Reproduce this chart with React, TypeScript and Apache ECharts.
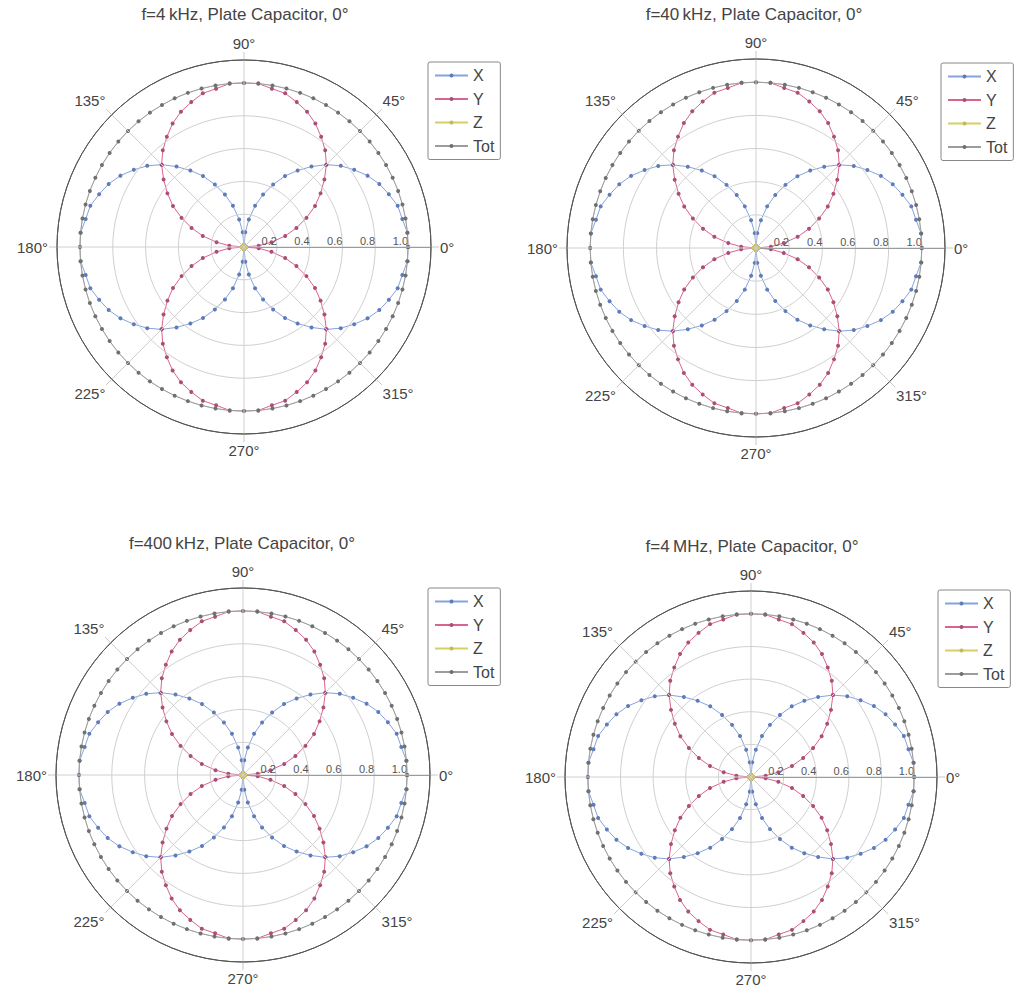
import React, { useEffect, useRef } from 'react';
import * as echarts from 'echarts';

// Angles in degrees (5° steps, closed at 360°)
const ANGLES = [
  0, 5, 10, 15, 20, 25, 30, 35, 40, 45, 50, 55, 60, 65, 70, 75, 80, 85, 90,
  95, 100, 105, 110, 115, 120, 125, 130, 135, 140, 145, 150, 155, 160, 165, 170, 175, 180,
  185, 190, 195, 200, 205, 210, 215, 220, 225, 230, 235, 240, 245, 250, 255, 260, 265, 270,
  275, 280, 285, 290, 295, 300, 305, 310, 315, 320, 325, 330, 335, 340, 345, 350, 355, 360,
];

const X_VALUES = [
  1.0, 1.0, 0.98, 0.97, 0.94, 0.91, 0.87, 0.82, 0.77, 0.71, 0.64, 0.57, 0.5, 0.42, 0.34, 0.26, 0.17, 0.09, 0.0,
  0.09, 0.17, 0.26, 0.34, 0.42, 0.5, 0.57, 0.64, 0.71, 0.77, 0.82, 0.87, 0.91, 0.94, 0.97, 0.98, 1.0, 1.0,
  1.0, 0.98, 0.97, 0.94, 0.91, 0.87, 0.82, 0.77, 0.71, 0.64, 0.57, 0.5, 0.42, 0.34, 0.26, 0.17, 0.09, 0.0,
  0.09, 0.17, 0.26, 0.34, 0.42, 0.5, 0.57, 0.64, 0.71, 0.77, 0.82, 0.87, 0.91, 0.94, 0.97, 0.98, 1.0, 1.0,
];

const Y_VALUES = [
  0.0, 0.09, 0.17, 0.26, 0.34, 0.42, 0.5, 0.57, 0.64, 0.71, 0.77, 0.82, 0.87, 0.91, 0.94, 0.97, 0.98, 1.0, 1.0,
  1.0, 0.98, 0.97, 0.94, 0.91, 0.87, 0.82, 0.77, 0.71, 0.64, 0.57, 0.5, 0.42, 0.34, 0.26, 0.17, 0.09, 0.0,
  0.09, 0.17, 0.26, 0.34, 0.42, 0.5, 0.57, 0.64, 0.71, 0.77, 0.82, 0.87, 0.91, 0.94, 0.97, 0.98, 1.0, 1.0,
  1.0, 0.98, 0.97, 0.94, 0.91, 0.87, 0.82, 0.77, 0.71, 0.64, 0.57, 0.5, 0.42, 0.34, 0.26, 0.17, 0.09, 0.0,
];

const Z_VALUES = [
  0.01, 0.01, 0.01, 0.01, 0.01, 0.01, 0.01, 0.01, 0.01, 0.01, 0.01, 0.01, 0.01, 0.01, 0.01, 0.01, 0.01, 0.01, 0.01,
  0.01, 0.01, 0.01, 0.01, 0.01, 0.01, 0.01, 0.01, 0.01, 0.01, 0.01, 0.01, 0.01, 0.01, 0.01, 0.01, 0.01, 0.01,
  0.01, 0.01, 0.01, 0.01, 0.01, 0.01, 0.01, 0.01, 0.01, 0.01, 0.01, 0.01, 0.01, 0.01, 0.01, 0.01, 0.01, 0.01,
  0.01, 0.01, 0.01, 0.01, 0.01, 0.01, 0.01, 0.01, 0.01, 0.01, 0.01, 0.01, 0.01, 0.01, 0.01, 0.01, 0.01, 0.01,
];

const TOT_VALUES = [
  1.0, 1.0, 1.0, 1.0, 1.0, 1.0, 1.0, 1.0, 1.0, 1.0, 1.0, 1.0, 1.0, 1.0, 1.0, 1.0, 1.0, 1.0, 1.0,
  1.0, 1.0, 1.0, 1.0, 1.0, 1.0, 1.0, 1.0, 1.0, 1.0, 1.0, 1.0, 1.0, 1.0, 1.0, 1.0, 1.0, 1.0,
  1.0, 1.0, 1.0, 1.0, 1.0, 1.0, 1.0, 1.0, 1.0, 1.0, 1.0, 1.0, 1.0, 1.0, 1.0, 1.0, 1.0, 1.0,
  1.0, 1.0, 1.0, 1.0, 1.0, 1.0, 1.0, 1.0, 1.0, 1.0, 1.0, 1.0, 1.0, 1.0, 1.0, 1.0, 1.0, 1.0,
];

const PANEL_TITLES = [
  'f=4\u2009kHz, Plate Capacitor, 0°',
  'f=40\u2009kHz, Plate Capacitor, 0°',
  'f=400\u2009kHz, Plate Capacitor, 0°',
  'f=4\u2009MHz, Plate Capacitor, 0°',
];

const SERIES_NAMES = ['X', 'Y', 'Z', 'Tot'];
const SERIES_VALUES = [X_VALUES, Y_VALUES, Z_VALUES, TOT_VALUES];

const LINE_COLORS = ['#86a3dc', '#d9648f', '#d8cf62', '#9c9c9c'];
const MARK_COLORS = ['#5f7cb8', '#a9507a', '#c7b94e', '#707070'];

const LAYOUT = [
  { cx: 244, cy: 247, r: 187, tx: 245, ty: 6, lx: 428, ly: 62 },
  { cx: 756, cy: 248, r: 189, tx: 754, ty: 6, lx: 941, ly: 63 },
  { cx: 243, cy: 775, r: 187, tx: 242, ty: 535, lx: 428, ly: 588 },
  { cx: 751, cy: 777, r: 186, tx: 752, ty: 538, lx: 938, ly: 590 },
];

const GRID = '#d0d0d0';
const FONT = '"Liberation Sans", Arial, sans-serif';

export default function App() {
  const ref = useRef<HTMLDivElement>(null);

  useEffect(() => {
    if (!ref.current) return;
    const chart = echarts.init(ref.current, undefined, { renderer: 'svg' });

    const title: any[] = [];
    const polar: any[] = [];
    const angleAxis: any[] = [];
    const radiusAxis: any[] = [];
    const legend: any[] = [];
    const series: any[] = [];

    LAYOUT.forEach((p, k) => {
      title.push({
        text: PANEL_TITLES[k],
        left: p.tx,
        top: p.ty,
        textAlign: 'center',
        padding: 0,
        textStyle: { fontSize: 17, fontWeight: 'normal', color: '#444', fontFamily: FONT },
      });
      polar.push({ center: [p.cx, p.cy], radius: p.r });
      angleAxis.push({
        polarIndex: k,
        type: 'value',
        min: 0,
        max: 360,
        interval: 45,
        startAngle: 0,
        clockwise: false,
        z: 10,
        axisLine: { show: true, lineStyle: { color: '#555', width: 1 } },
        axisTick: { show: true, length: 8, lineStyle: { color: '#c8c8c8', width: 1 } },
        splitLine: { show: true, lineStyle: { color: GRID, width: 1 } },
        axisLabel: {
          formatter: (v: number) => `${v}°`,
          margin: 9,
          color: '#444',
          fontSize: 15,
          fontFamily: FONT,
        },
      });
      radiusAxis.push({
        polarIndex: k,
        type: 'value',
        min: 0,
        max: 1.14,
        interval: 0.2,
        axisLine: { show: true, lineStyle: { color: '#666', width: 1 } },
        axisTick: { show: false },
        splitLine: {
          show: true,
          lineStyle: { color: [GRID, GRID, GRID, GRID, GRID, GRID, '#555'], width: 1 },
        },
        axisLabel: {
          formatter: (v: number) => (v > 0.1 && v < 1.05 ? v.toFixed(1) : ''),
          align: 'right',
          margin: 1,
          color: '#555',
          fontSize: 11,
          fontFamily: FONT,
        },
        z: 5,
      });
      legend.push({
        orient: 'vertical',
        left: p.lx,
        top: p.ly,
        padding: [5, 6, 5, 6],
        itemGap: 6.5,
        itemWidth: 33,
        itemHeight: 5,
        borderColor: '#888',
        borderWidth: 1,
        borderRadius: 2,
        textStyle: { fontSize: 16, color: '#444', fontFamily: FONT, lineHeight: 17 },
        data: SERIES_NAMES,
      });
      SERIES_NAMES.forEach((name, s) => {
        series.push({
          name,
          type: 'line',
          coordinateSystem: 'polar',
          polarIndex: k,
          symbol: 'circle',
          symbolSize: 4,
          showSymbol: true,
          lineStyle: { color: LINE_COLORS[s], width: 1 },
          itemStyle: { color: MARK_COLORS[s] },
          data: ANGLES.map((a, i) => [SERIES_VALUES[s][i], a]),
          z: 3 + s,
        });
      });
    });

    chart.setOption({
      animation: false,
      backgroundColor: '#fff',
      textStyle: { fontFamily: FONT },
      title,
      polar,
      angleAxis,
      radiusAxis,
      legend,
      series,
    });

    return () => chart.dispose();
  }, []);

  return (
    <div
      ref={ref}
      style={{ position: 'absolute', left: 0, top: 0, width: 1014, height: 990 }}
    />
  );
}
